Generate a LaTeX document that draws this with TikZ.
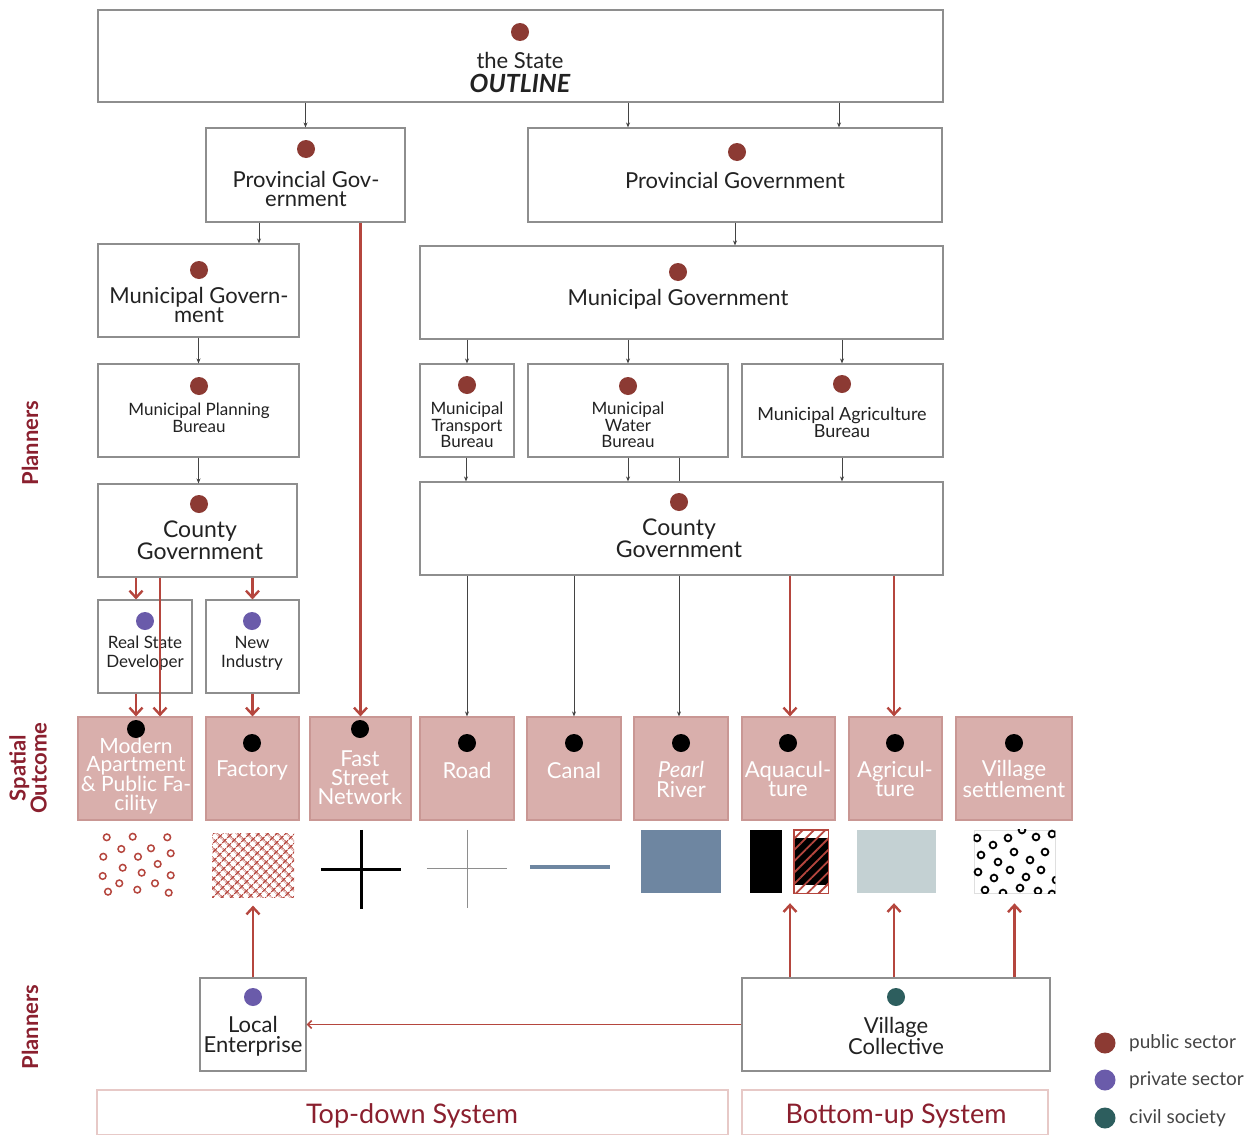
\documentclass[tikz,border=0pt]{standalone}
\usepackage{fontspec}
\setmainfont{Lato}
\usetikzlibrary{arrows.meta,calc,patterns.meta}

\definecolor{boxline}{HTML}{8E8E8E}
\definecolor{pub}{HTML}{8C3A33}
\definecolor{priv}{HTML}{6A5BAA}
\definecolor{civ}{HTML}{2D5E5E}
\definecolor{redarrow}{HTML}{B5463E}
\definecolor{outfill}{HTML}{D9AFAC}
\definecolor{outedge}{HTML}{C99794}
\definecolor{labelred}{HTML}{8A1F2E}
\definecolor{water}{HTML}{6E86A1}
\definecolor{field}{HTML}{C4D1D3}
\definecolor{txt}{HTML}{222222}
\definecolor{sysedge}{HTML}{E7C9C7}
\definecolor{legtxt}{HTML}{444444}

\newcommand\fsz[2]{\fontsize{#1}{#2}\selectfont}

\tikzset{
  box/.style={draw=boxline, line width=1.1pt, fill=white, inner sep=0pt},
  outbox/.style={draw=outedge, line width=1.2pt, fill=outfill, inner sep=0pt, minimum height=103pt},
  sysbox/.style={draw=sysedge, line width=1.2pt, inner sep=0pt, minimum height=45pt},
  dot/.style={circle, inner sep=0pt, minimum size=18pt},
  lbl/.style={align=center, text=txt, inner sep=0pt},
  outlbl/.style={align=center, text=white, inner sep=0pt, font=\fsz{22}{17.5}},
  side/.style={rotate=90, align=center, text=labelred, inner sep=0pt, font=\bfseries\fsz{22}{21}},
  garrow/.style={draw=txt!85, line width=0.9pt, -{Stealth[length=5pt,width=4pt]}},
  rarrow/.style={draw=redarrow, line width=2.4pt, -{Straight Barb[length=7pt,width=13pt]}},
  patch/.style={inner sep=0pt, minimum width=80pt, minimum height=63pt},
  ring/.style={line width=1.5pt},
}

\begin{document}
\begin{tikzpicture}[x=1pt,y=-1pt]
\useasboundingbox (0,0) rectangle (1248,1135);

% ---------- planning hierarchy ----------
\node[box, minimum width=845pt, minimum height=92pt] (state) at (520.5,56) {};
\node[dot, fill=pub] (stated) at (520,32) {};
\node[lbl, font=\fsz{22}{24}] (statet) at (520,72) {the State\\{\fsz{25}{24}\bfseries\itshape OUTLINE}};

\node[box, minimum width=199pt, minimum height=94pt] (prov1) at (305.5,175) {};
\node[dot, fill=pub] (prov1d) at (306,149) {};
\node[lbl, font=\fsz{22}{19}] (prov1t) at (306,189) {Provincial Gov-\\ernment};

\node[box, minimum width=414pt, minimum height=94pt] (prov2) at (735,175) {};
\node[dot, fill=pub] (prov2d) at (737,152) {};
\node[lbl, font=\fsz{22}{17}] (prov2t) at (735,180) {Provincial Government};

\node[box, minimum width=201pt, minimum height=93pt] (mun1) at (198.5,290.5) {};
\node[dot, fill=pub] (mun1d) at (199,270) {};
\node[lbl, font=\fsz{22}{19}] (mun1t) at (199,305) {Municipal Govern-\\ment};

\node[box, minimum width=523pt, minimum height=93pt] (mun2) at (681.5,292.5) {};
\node[dot, fill=pub] (mun2d) at (678,272) {};
\node[lbl, font=\fsz{22}{17}] (mun2t) at (678,299) {Municipal Government};

\node[box, minimum width=201pt, minimum height=93pt] (mpb) at (198.5,410.5) {};
\node[dot, fill=pub] (mpbd) at (199,386) {};
\node[lbl, font=\fsz{17}{16.5}] (mpbt) at (199,418) {Municipal Planning\\Bureau};

\node[box, minimum width=94pt, minimum height=93pt] (mtb) at (467,410.5) {};
\node[dot, fill=pub] (mtbd) at (467,385) {};
\node[lbl, font=\fsz{17}{16.5}] (mtbt) at (467,425) {Municipal\\Transport\\Bureau};

\node[box, minimum width=200pt, minimum height=93pt] (mwb) at (628,410.5) {};
\node[dot, fill=pub] (mwbd) at (628,386) {};
\node[lbl, font=\fsz{17}{16.5}] (mwbt) at (628,425) {Municipal\\Water\\Bureau};

\node[box, minimum width=201pt, minimum height=93pt] (mab) at (842.5,410.5) {};
\node[dot, fill=pub] (mabd) at (842,384) {};
\node[lbl, font=\fsz{18}{17}] (mabt) at (842,422) {Municipal Agriculture\\Bureau};

\node[box, minimum width=199pt, minimum height=93pt] (cty1) at (197.5,530.5) {};
\node[dot, fill=pub] (cty1d) at (199,504) {};
\node[lbl, font=\fsz{23}{20}] (cty1t) at (200,540) {County\\Government};

\node[box, minimum width=523pt, minimum height=93pt] (cty2) at (681.5,528.5) {};
\node[dot, fill=pub] (cty2d) at (679,502) {};
\node[lbl, font=\fsz{23}{20}] (cty2t) at (679,538) {County\\Government};

\node[box, minimum width=94pt, minimum height=93pt] (rsd) at (145,646.5) {};
\node[dot, fill=priv] (rsdd) at (145,621) {};
\node[lbl, font=\fsz{17}{19}] (rsdt) at (145,653) {Real State\\Developer};

\node[box, minimum width=93pt, minimum height=93pt] (nin) at (252.5,646.5) {};
\node[dot, fill=priv] (nind) at (252,621) {};
\node[lbl, font=\fsz{17}{19}] (nint) at (252,653) {New\\Industry};

% ---------- spatial outcomes ----------
\node[outbox, minimum width=114pt] (o1) at (135,768.5) {};
\node[dot, fill=black] (o1d) at (136,729) {};
\node[outlbl, font=\fsz{21}{18.5}] (o1t) at (136,776) {Modern\\Apartment\\\& Public Fa-\\cility};

\node[outbox, minimum width=93pt] (o2) at (252.5,768.5) {};
\node[dot, fill=black] (o2d) at (252,743) {};
\node[outlbl] (o2t) at (252,770) {Factory};

\node[outbox, minimum width=101pt] (o3) at (360.5,768.5) {};
\node[dot, fill=black] (o3d) at (360,729) {};
\node[outlbl, font=\fsz{22}{19}] (o3t) at (360,778) {Fast\\Street\\Network};

\node[outbox, minimum width=94pt] (o4) at (467,768.5) {};
\node[dot, fill=black] (o4d) at (467,743) {};
\node[outlbl] (o4t) at (467,770) {Road};

\node[outbox, minimum width=94pt] (o5) at (574,768.5) {};
\node[dot, fill=black] (o5d) at (574,743) {};
\node[outlbl] (o5t) at (574,770) {Canal};

\node[outbox, minimum width=94pt] (o6) at (681,768.5) {};
\node[dot, fill=black] (o6d) at (681,743) {};
\node[outlbl, font=\fsz{22}{20}] (o6t) at (681,779) {\textit{Pearl}\\River};

\node[outbox, minimum width=93pt] (o7) at (788.5,768.5) {};
\node[dot, fill=black] (o7d) at (788,743) {};
\node[outlbl, font=\fsz{22}{19}] (o7t) at (788,779) {Aquacul-\\ture};

\node[outbox, minimum width=93pt] (o8) at (895.5,768.5) {};
\node[dot, fill=black] (o8d) at (895,743) {};
\node[outlbl, font=\fsz{22}{19}] (o8t) at (895,779) {Agricul-\\ture};

\node[outbox, minimum width=116pt] (o9) at (1014,768.5) {};
\node[dot, fill=black] (o9d) at (1014,743) {};
\node[outlbl, font=\fsz{22}{19}] (o9t) at (1014,779) {Village\\settlement};

% ---------- land-use patches ----------
\node[patch, minimum width=82pt, minimum height=66pt] (p1) at (137,864) {};
\foreach \x/\y in {106.7/837.3,132.7/836.7,167.3/837.3,121.3/849,151/848.3,103.3/856.7,138/856.7,170.7/853.3,122.7/867.7,157.7/864,102.7/876,141.7/872.7,170.7/875.3,119.3/883.3,155/883.3,108/891.7,137.3/889.7,168.7/892.7}
  \draw[ring, draw=redarrow] (\x,\y) circle[radius=3.3pt];

\node[patch, minimum width=82pt, minimum height=64pt,
      pattern={Hatch[angle=45,distance=6.5pt,line width=1.2pt]}, pattern color=redarrow] (p2) at (253,865) {};

\node[patch, minimum width=80pt, minimum height=79pt] (p3) at (361,869.5) {};
\draw[line width=3pt, black] (p3.west) -- (p3.east) (p3.north) -- (p3.south);

\node[patch, minimum width=80pt, minimum height=78pt] (p4) at (467,869) {};
\draw[line width=1pt, boxline] (p4.west |- 0,868) -- (p4.east |- 0,868) (p4.north) -- (p4.south);

\node[patch, minimum width=80pt, minimum height=5pt] (p5) at (570,867) {};
\draw[line width=4.5pt, water] (p5.west) -- (p5.east);

\node[patch, fill=water] (p6) at (681,861.5) {};

\node[patch, minimum width=32pt, fill=black] (p7a) at (766,861.5) {};
\node[patch, minimum width=34pt] (p7b) at (811,861.5) {};
\fill[white] (p7b.north west) rectangle (p7b.south east);
\fill[black] ([yshift=-8pt]p7b.north west) rectangle ([yshift=8pt]p7b.south east);
\fill[pattern={Lines[angle=45,distance=8pt,line width=1.8pt]}, pattern color=redarrow]
  (p7b.north west) rectangle (p7b.south east);
\draw[redarrow, line width=1.4pt] (p7b.north west) rectangle (p7b.south east);

\node[patch, minimum width=79pt, fill=field] (p8) at (896.5,861.5) {};

\node[patch, minimum width=81pt, draw=gray!25, line width=0.8pt] (p9) at (1014.5,861.5) {};
\begin{scope}
  \clip (p9.north west) rectangle (p9.south east);
  \foreach \x/\y in {977/838,993/845,1008/838,1022/830,1036/837,1052/834,
                     981/855,998/862,1014/852,1030/860,1045/852,
                     978/872,994/878,1010/870,1026/877,1041/870,1056/880,
                     985/890,1003/893,1020/888,1038/891,1052/894}
    \draw[line width=1.8pt, black] (\x,\y) circle[radius=3.4pt];
\end{scope}

% ---------- bottom actors ----------
\node[box, minimum width=106pt, minimum height=93pt] (le) at (253,1024.5) {};
\node[dot, fill=priv] (led) at (253,997) {};
\node[lbl, font=\fsz{22}{20}] (let) at (253,1036) {Local\\Enterprise};

\node[box, minimum width=308pt, minimum height=93pt] (vc) at (896,1024.5) {};
\node[dot, fill=civ] (vcd) at (896,997) {};
\node[lbl, font=\fsz{22}{20}] (vct) at (896,1036) {Village\\Collective};

\node[sysbox, minimum width=631pt] (td) at (412.5,1112.5) {};
\node[lbl, text=labelred, font=\fsz{27}{27}] (tdt) at (412,1116) {Top-down System};
\node[sysbox, minimum width=306pt] (bu) at (895,1112.5) {};
\node[lbl, text=labelred, font=\fsz{27}{27}] (but) at (896,1116) {Bottom-up System};

% ---------- side labels ----------
\node[side] (pl1) at (30,443) {Planners};
\node[side] (so) at (28,768) {Spatial\\Outcome};
\node[side] (pl2) at (30,1027) {Planners};

% ---------- legend ----------
\node[dot, minimum size=21pt, fill=pub] (lg1) at (1105,1043) {};
\node[dot, minimum size=21pt, fill=priv] (lg2) at (1105,1080) {};
\node[dot, minimum size=21pt, fill=civ] (lg3) at (1105,1118) {};
\node[anchor=west, inner sep=0pt, text=legtxt, font=\fsz{19}{19}] (lg1t) at (1129,1043) {public sector};
\node[anchor=west, inner sep=0pt, text=legtxt, font=\fsz{19}{19}] (lg2t) at (1129,1080) {private sector};
\node[anchor=west, inner sep=0pt, text=legtxt, font=\fsz{19}{19}] (lg3t) at (1129,1118) {civil society};

% ---------- connector columns ----------
\foreach \n/\v in {x136/136,x160/160,x259/259,x628/628,x679/679,x790/790,x839/839,x842/842,x894/894,x466/466}
  \coordinate (\n) at (\v,0);

% grey command lines
\draw[garrow] (state.south -| prov1.north) -- (prov1.north);
\draw[garrow] (state.south -| x628) -- (prov2.north -| x628);
\draw[garrow] (state.south -| x839) -- (prov2.north -| x839);
\draw[garrow] (prov1.south -| x259) -- (mun1.north -| x259);
\draw[garrow] (prov2.south) -- (mun2.north -| prov2.south);
\draw[garrow] (mun1.south -| mpb.north) -- (mpb.north);
\draw[garrow] (mun2.south -| mtb.north) -- (mtb.north);
\draw[garrow] (mun2.south -| mwb.north) -- (mwb.north);
\draw[garrow] (mun2.south -| x842) -- (mab.north -| x842);
\draw[garrow] (mpb.south) -- (cty1.north -| mpb.south);
\draw[garrow] (mtb.south -| x466) -- (cty2.north -| x466);
\draw[garrow] (mwb.south) -- (cty2.north -| mwb.south);
\draw[draw=txt!85, line width=0.9pt] (mwb.south -| x679) -- (cty2.north -| x679);
\draw[garrow] (mab.south -| x842) -- (cty2.north -| x842);
\draw[garrow] (cty2.south -| o4.north) -- (o4.north);
\draw[garrow] (cty2.south -| o5.north) -- (o5.north);
\draw[garrow] (cty2.south -| x679) -- (o6.north -| x679);

% red implementation lines
\draw[rarrow] (prov1.south -| o3.north) -- (o3.north);
\draw[rarrow] (cty1.south -| x136) -- (rsd.north -| x136);
\draw[rarrow] (cty1.south -| nin.north) -- (nin.north);
\draw[rarrow] (rsd.south -| x136) -- (o1.north -| x136);
\draw[rarrow] (cty1.south -| x160) -- (o1.north -| x160);
\draw[rarrow] (nin.south) -- (o2.north -| nin.south);
\draw[rarrow] (cty2.south -| x790) -- (o7.north -| x790);
\draw[rarrow] (cty2.south -| x894) -- (o8.north -| x894);

% bottom-up lines
\draw[rarrow, shorten >=8pt] (le.north) -- (p2.south -| le.north);
\draw[rarrow, shorten >=10pt] (vc.north -| x790) -- (p7b.south -| x790);
\draw[rarrow, shorten >=10pt] (vc.north -| x894) -- (p8.south -| x894);
\draw[rarrow, shorten >=10pt] (vc.north -| p9.south) -- (p9.south);
\draw[draw=redarrow, line width=1.6pt, -{Straight Barb[length=4pt,width=8pt]}] (vc.west) -- (le.east);

\end{tikzpicture}
\end{document}
